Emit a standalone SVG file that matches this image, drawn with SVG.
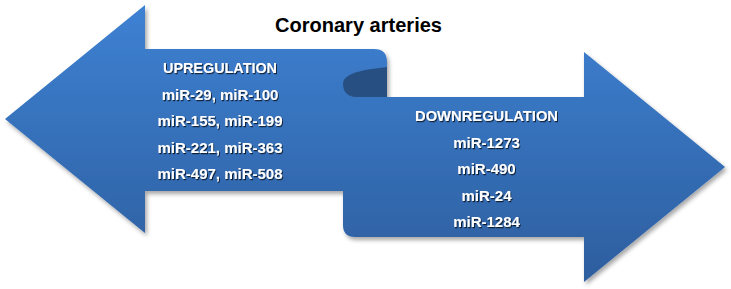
<svg xmlns="http://www.w3.org/2000/svg" width="731" height="289" viewBox="0 0 731 289">
<defs>
<linearGradient id="blue" gradientUnits="userSpaceOnUse" x1="0" y1="5" x2="0" y2="282">
<stop offset="0" stop-color="#3e81d3"/>
<stop offset="1" stop-color="#2d5e9e"/>
</linearGradient>
<filter id="shadow" x="-5%" y="-5%" width="110%" height="115%">
<feDropShadow dx="2" dy="3" stdDeviation="2" flood-color="#000" flood-opacity="0.35"/>
</filter>
<filter id="tshadow" x="-10%" y="-30%" width="120%" height="160%">
<feDropShadow dx="1" dy="1.2" stdDeviation="0.7" flood-color="#000" flood-opacity="0.7"/>
</filter>
</defs>
<style>
.title{font-family:"Liberation Sans",Arial,sans-serif;font-weight:bold;font-size:20px;fill:#000;text-anchor:middle}
.lbl{font-family:"Liberation Sans",Arial,sans-serif;font-weight:bold;font-size:15px;fill:#fff;text-anchor:middle;filter:url(#tshadow)}
</style>
<rect width="731" height="289" fill="#fff"/>
<g id="arrows">
<path d="M5,119 L145,5 L145,49 L374,49 Q387,49 387,62 L387,97 L584,97 L584,52 L725,167 L584,282 L584,237 L355,237 Q343,237 343,225 L343,191 L145,191 L145,233 Z" fill="url(#blue)" filter="url(#shadow)"/>
<path d="M387,67 C372,69 343,71 343,84 C343,92 348,97 356,97 L387,97 Z" fill="#284f82"/>
</g>
<g id="title">
<text class="title" x="358.5" y="32" textLength="167" lengthAdjust="spacingAndGlyphs">Coronary arteries</text>
</g>
<g id="upregulation">
<text class="lbl" x="220" y="73" textLength="114" lengthAdjust="spacingAndGlyphs">UPREGULATION</text>
<text class="lbl" x="220" y="99.5">miR-29, miR-100</text>
<text class="lbl" x="220" y="126">miR-155, miR-199</text>
<text class="lbl" x="220" y="152.5">miR-221, miR-363</text>
<text class="lbl" x="220" y="179">miR-497, miR-508</text>
</g>
<g id="downregulation">
<text class="lbl" x="486.5" y="121" textLength="143" lengthAdjust="spacingAndGlyphs">DOWNREGULATION</text>
<text class="lbl" x="486.5" y="147.5">miR-1273</text>
<text class="lbl" x="486.5" y="174">miR-490</text>
<text class="lbl" x="486.5" y="200.5">miR-24</text>
<text class="lbl" x="486.5" y="227">miR-1284</text>
</g>
</svg>
